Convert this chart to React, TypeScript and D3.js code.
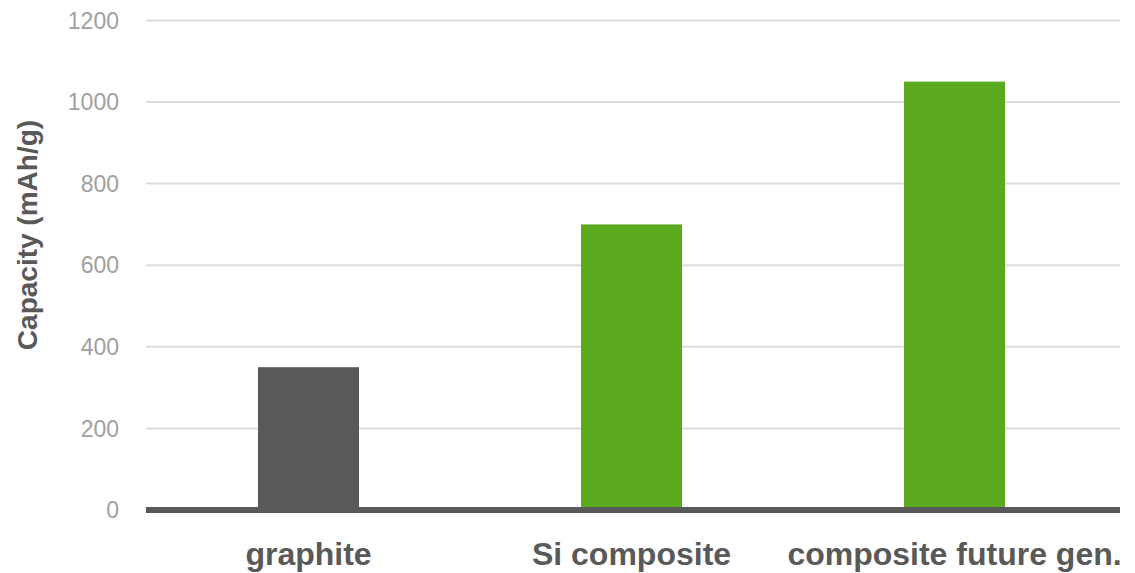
import React from "react";
import * as d3 from "d3";

const categories = ["graphite", "Si composite", "composite future gen."];
const capacities = [350, 700, 1050];
const barColors = ["#595959", "#5aa91f", "#5aa91f"];
const yTicks = [0, 200, 400, 600, 800, 1000, 1200];
const yTitle = "Capacity (mAh/g)";

export default function App() {
  const W = 1135, H = 573;
  const left = 146, right = 1120, top = 20.4, bottom = 510;
  const x = d3.scaleBand<string>().domain(categories).range([147, 1116]).paddingInner(0).paddingOuter(0);
  const y = d3.scaleLinear().domain([0, 1200]).range([bottom, top]);
  const barW = 101;
  const font = "Liberation Sans, Arial, sans-serif";
  return (
    <svg width={W} height={H} style={{ position: "absolute", left: 0, top: 0 }}>
      <rect x={0} y={0} width={W} height={H} fill="#fff" />
      {yTicks.filter(t => t > 0).map(t => (
        <line key={t} x1={left} x2={right} y1={y(t)} y2={y(t)} stroke="#dcdcdc" strokeWidth={2} />
      ))}
      {yTicks.map(t => (
        <text key={"l" + t} x={119} y={y(t)} dy="0.36em" textAnchor="end" fontFamily={font} fontSize={23} fill="#a0a0a0">{t}</text>
      ))}
      {categories.map((c, i) => (
        <rect key={c} x={x(c)! + x.bandwidth() / 2 - barW / 2} y={y(capacities[i])} width={barW} height={y(0) - y(capacities[i])} fill={barColors[i]} />
      ))}
      <line x1={left} x2={right} y1={y(0)} y2={y(0)} stroke="#595959" strokeWidth={6} />
      {categories.map(c => (
        <text key={"c" + c} x={x(c)! + x.bandwidth() / 2} y={565} textAnchor="middle" fontFamily={font} fontSize={32} fontWeight="bold" fill="#595959">{c}</text>
      ))}
      <text transform={`translate(37,235) rotate(-90)`} textAnchor="middle" fontFamily={font} fontSize={28} fontWeight="bold" fill="#595959">{yTitle}</text>
    </svg>
  );
}
